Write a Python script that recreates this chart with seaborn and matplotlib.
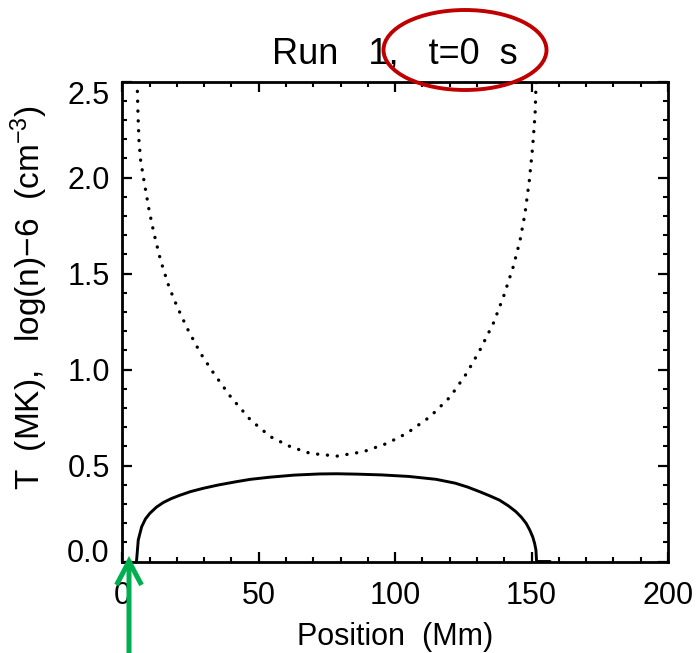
import numpy as np
import pandas as pd
import matplotlib
matplotlib.use("Agg")
import matplotlib.pyplot as plt
from matplotlib.patches import Ellipse, FancyArrowPatch
from matplotlib.ticker import MultipleLocator
import seaborn as sns

# ---- data ----
temp_pos = [5.2, 5.85, 7.1, 8.5, 10.1, 12.5, 15.0, 18.0, 21.1, 25.0, 29.6, 35.0, 41.9,
            47.0, 54.0, 63.0, 72.3, 78.5, 86.0, 95.0, 105.0, 115.0, 122.0, 126.5,
            130.9, 134.5, 138.2, 141.5, 144.3, 146.3, 148.0, 149.3, 150.4, 151.1,
            151.6, 151.8, 151.9, 156.8]
temp_val = [0.0, 0.112, 0.181, 0.222, 0.251, 0.283, 0.307, 0.328, 0.345, 0.364, 0.381,
            0.398, 0.416, 0.428, 0.439, 0.450, 0.456, 0.457, 0.455, 0.451, 0.443,
            0.428, 0.408, 0.388, 0.364, 0.343, 0.320, 0.290, 0.259, 0.230, 0.199,
            0.165, 0.129, 0.095, 0.060, 0.008, 0.0, 0.0]

dens_pos = [5.4, 5.5, 5.74, 6.1, 6.7, 7.9, 9.8, 11.6, 14.0, 17.1, 20.1, 23.8, 28.7, 33.5,
            39.7, 47.0, 54.3, 61.6, 68.9, 78.7, 88.4, 97.0, 104.3, 112.8, 120.2,
            126.2, 131.1, 136.0, 139.7, 143.3, 145.8, 147.6, 149.2, 150.4, 151.3,
            151.6, 151.7]
dens_val = [2.5, 2.465, 2.334, 2.195, 2.091, 1.987, 1.831, 1.709, 1.570, 1.431, 1.327,
            1.214, 1.084, 0.980, 0.858, 0.737, 0.650, 0.598, 0.563, 0.549, 0.572,
            0.615, 0.668, 0.754, 0.858, 0.980, 1.102, 1.241, 1.379, 1.536, 1.674,
            1.814, 1.987, 2.160, 2.334, 2.473, 2.5]

x_ticks = [0, 50, 100, 150, 200]
y_ticks = [0.0, 0.5, 1.0, 1.5, 2.0, 2.5]
y_ticklabels = ["0.0", "0.5", "1.0", "1.5", "2.0", "2.5"]

title_text = "Run   1,   t=0  s"
xlabel_text = "Position  (Mm)"
ylabel_text = "T  (MK),   log(n)\u22126  (cm" + r"$\mathregular{^{-3}}$" + ")"

# ---- style ----
sns.set_theme(style="ticks")
plt.rcParams["font.family"] = ["Liberation Sans", "DejaVu Sans"]
plt.rcParams["mathtext.fontset"] = "custom"
plt.rcParams["mathtext.rm"] = "Liberation Sans"

fig = plt.figure(figsize=(6.99, 6.53), dpi=100)
fig.subplots_adjust(left=122.3 / 699, right=668 / 699,
                    bottom=(653 - 561.5) / 653, top=(653 - 81.5) / 653)
ax = fig.add_subplot(111)

df_t = pd.DataFrame({"pos": temp_pos, "val": temp_val})
df_n = pd.DataFrame({"pos": dens_pos, "val": dens_val})

sns.lineplot(data=df_t, x="pos", y="val", ax=ax, color="black", lw=2.1,
             estimator=None, sort=False)
sns.lineplot(data=df_n, x="pos", y="val", ax=ax, color="black", lw=2.4,
             estimator=None, sort=False, linestyle=(0, (0.05, 2.9)),
             dash_capstyle="round")

ax.set_xlim(0, 200)
ax.set_ylim(0, 2.5)
ax.set_xticks(x_ticks)
ax.set_xticklabels([str(v) for v in x_ticks])
ax.set_yticks(y_ticks)
ax.set_yticklabels(y_ticklabels)
ax.xaxis.set_minor_locator(MultipleLocator(10))
ax.yaxis.set_minor_locator(MultipleLocator(0.1))

for s in ax.spines.values():
    s.set_linewidth(2.0)
    s.set_color("black")
    s.set_visible(True)

ax.tick_params(which="both", direction="in", top=True, right=True,
               color="black", labelcolor="black")
ax.tick_params(which="major", length=7, width=1.6, labelsize=22)
ax.tick_params(axis="x", which="major", pad=14)
ax.tick_params(axis="y", which="major", pad=9)
ax.tick_params(which="minor", length=3.8, width=1.5)

ylabs = ax.get_yticklabels()
ylabs[0].set_va("baseline")
ylabs[-1].set_va("top")

ax.set_title(title_text, fontsize=26, pad=13, color="black")
ax.set_xlabel(xlabel_text, fontsize=22, labelpad=8, color="black")
ax.set_ylabel(ylabel_text, fontsize=24, color="black")
ax.yaxis.set_label_coords(-0.133, 0.55)

# ---- annotations (red ellipse, green arrow) ----
ell = Ellipse((465 / 699, 1 - 50 / 653), 163 / 699, 80 / 653,
              transform=fig.transFigure, fill=False, edgecolor="#C00000",
              lw=2.8, zorder=10)
fig.patches.append(ell)
fig.add_artist(FancyArrowPatch(
    (129, -2), (129, 97), transform=None,
    arrowstyle="->,head_length=0.85,head_width=0.45", mutation_scale=20,
    color="#00B050", lw=3.6, shrinkA=0, shrinkB=0, zorder=10,
    joinstyle="miter", capstyle="butt"))

fig.savefig("out.png", dpi=100)
